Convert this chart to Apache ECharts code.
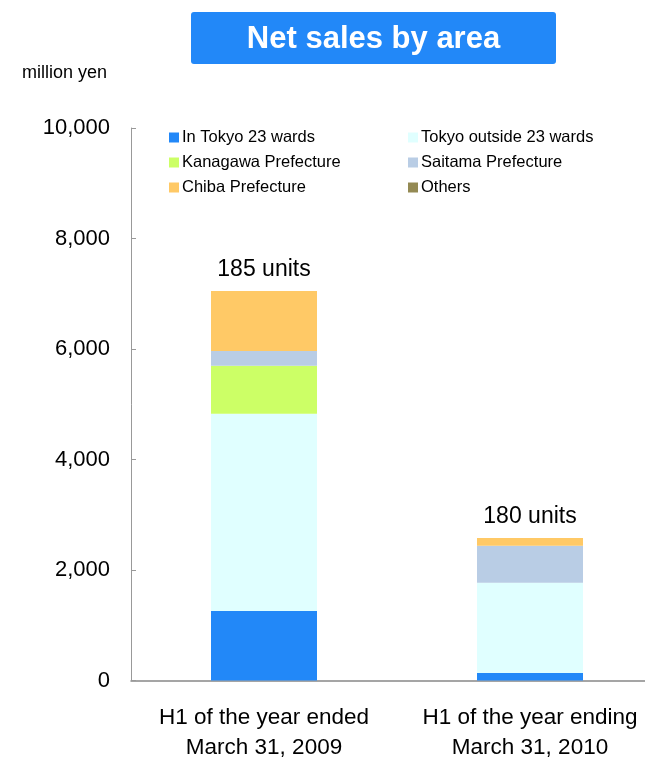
<!DOCTYPE html>
<html>
<head>
<meta charset="utf-8">
<script src="https://cdn.jsdelivr.net/npm/echarts@6/dist/echarts.min.js"></script>
<style>
  html, body { margin: 0; padding: 0; background: #fff; overflow: hidden; }
  #chart { width: 645px; height: 759px; }
</style>
</head>
<body>
<div id="chart"></div>
<script>
// Periods on the horizontal axis
const periods = ['H1 of the year ended\nMarch 31, 2009', 'H1 of the year ending\nMarch 31, 2010'];

// Net sales by area, million yen
const inTokyo23 = [1258, 136];
const tokyoOutside23 = [3571, 1634];
const kanagawa = [869, 0];
const saitama = [266, 670];
const chiba = [1086, 139];
const others = [0, 0];

// Units sold per period
const units = [185, 180];

// Value axis ticks
const yMin = 0, yMax = 10000, yStep = 2000;

const font = '"Liberation Sans", Arial, sans-serif';

const areaSeries = [
  { name: 'In Tokyo 23 wards', data: inTokyo23, color: '#2288F8' },
  { name: 'Tokyo outside 23 wards', data: tokyoOutside23, color: '#E0FFFF' },
  { name: 'Kanagawa Prefecture', data: kanagawa, color: '#CCFF66' },
  { name: 'Saitama Prefecture', data: saitama, color: '#B9CDE5' },
  { name: 'Chiba Prefecture', data: chiba, color: '#FFC966' },
  { name: 'Others', data: others, color: '#948A54' }
];

const series = areaSeries.map(a => ({
  name: a.name,
  type: 'bar',
  stack: 'sales',
  barWidth: 106,
  itemStyle: { color: a.color },
  data: a.data,
  emphasis: { disabled: true }
}));

// unit count shown above the top segment of each stack
series[4].label = {
  show: true,
  position: 'top',
  distance: 10,
  formatter: p => units[p.dataIndex] + ' units',
  color: '#000',
  fontSize: 23,
  fontFamily: font
};

const legendBase = {
  orient: 'vertical',
  itemWidth: 10,
  itemHeight: 10,
  itemGap: 8,
  icon: 'rect',
  selectedMode: false,
  textStyle: { fontSize: 16.5, color: '#000', fontFamily: font, padding: [0, 0, 0, -2] }
};

const chart = echarts.init(document.getElementById('chart'));
chart.setOption({
  animation: false,
  textStyle: { fontFamily: font },
  graphic: [
    {
      type: 'rect',
      shape: { x: 191, y: 12, width: 365, height: 52, r: 3 },
      style: { fill: '#2288F8' }
    },
    {
      type: 'text',
      x: 373.5, y: 39,
      style: {
        text: 'Net sales by area',
        fill: '#fff',
        font: 'bold 31px ' + font,
        textAlign: 'center',
        textVerticalAlign: 'middle'
      }
    },
    {
      type: 'text',
      x: 22, y: 73,
      style: {
        text: 'million yen',
        fill: '#000',
        font: '18px ' + font,
        textVerticalAlign: 'middle'
      }
    }
  ],
  legend: [
    Object.assign({}, legendBase, {
      left: 164, top: 124,
      data: ['In Tokyo 23 wards', 'Kanagawa Prefecture', 'Chiba Prefecture']
    }),
    Object.assign({}, legendBase, {
      left: 403, top: 124,
      data: ['Tokyo outside 23 wards', 'Saitama Prefecture', 'Others']
    })
  ],
  grid: {
    left: 131, width: 532, top: 128, height: 552.5,
    containLabel: false,
    outerBoundsMode: 'none'
  },
  xAxis: {
    type: 'category',
    data: periods,
    axisLine: { lineStyle: { color: '#888', width: 1.5 } },
    axisTick: { show: false },
    axisLabel: {
      color: '#000',
      fontSize: 22.5,
      lineHeight: 30,
      margin: 22,
      fontFamily: font,
      interval: 0,
      hideOverlap: false,
      showMinLabel: true,
      showMaxLabel: true
    }
  },
  yAxis: {
    type: 'value',
    min: yMin,
    max: yMax,
    interval: yStep,
    splitLine: { show: false },
    axisLine: { show: true, lineStyle: { color: '#999' } },
    axisTick: { show: true, inside: true, length: 5, lineStyle: { color: '#999' } },
    axisLabel: {
      color: '#000',
      fontSize: 22,
      margin: 21,
      fontFamily: font,
      formatter: v => v.toLocaleString('en-US')
    }
  },
  series: series
});
</script>
</body>
</html>
